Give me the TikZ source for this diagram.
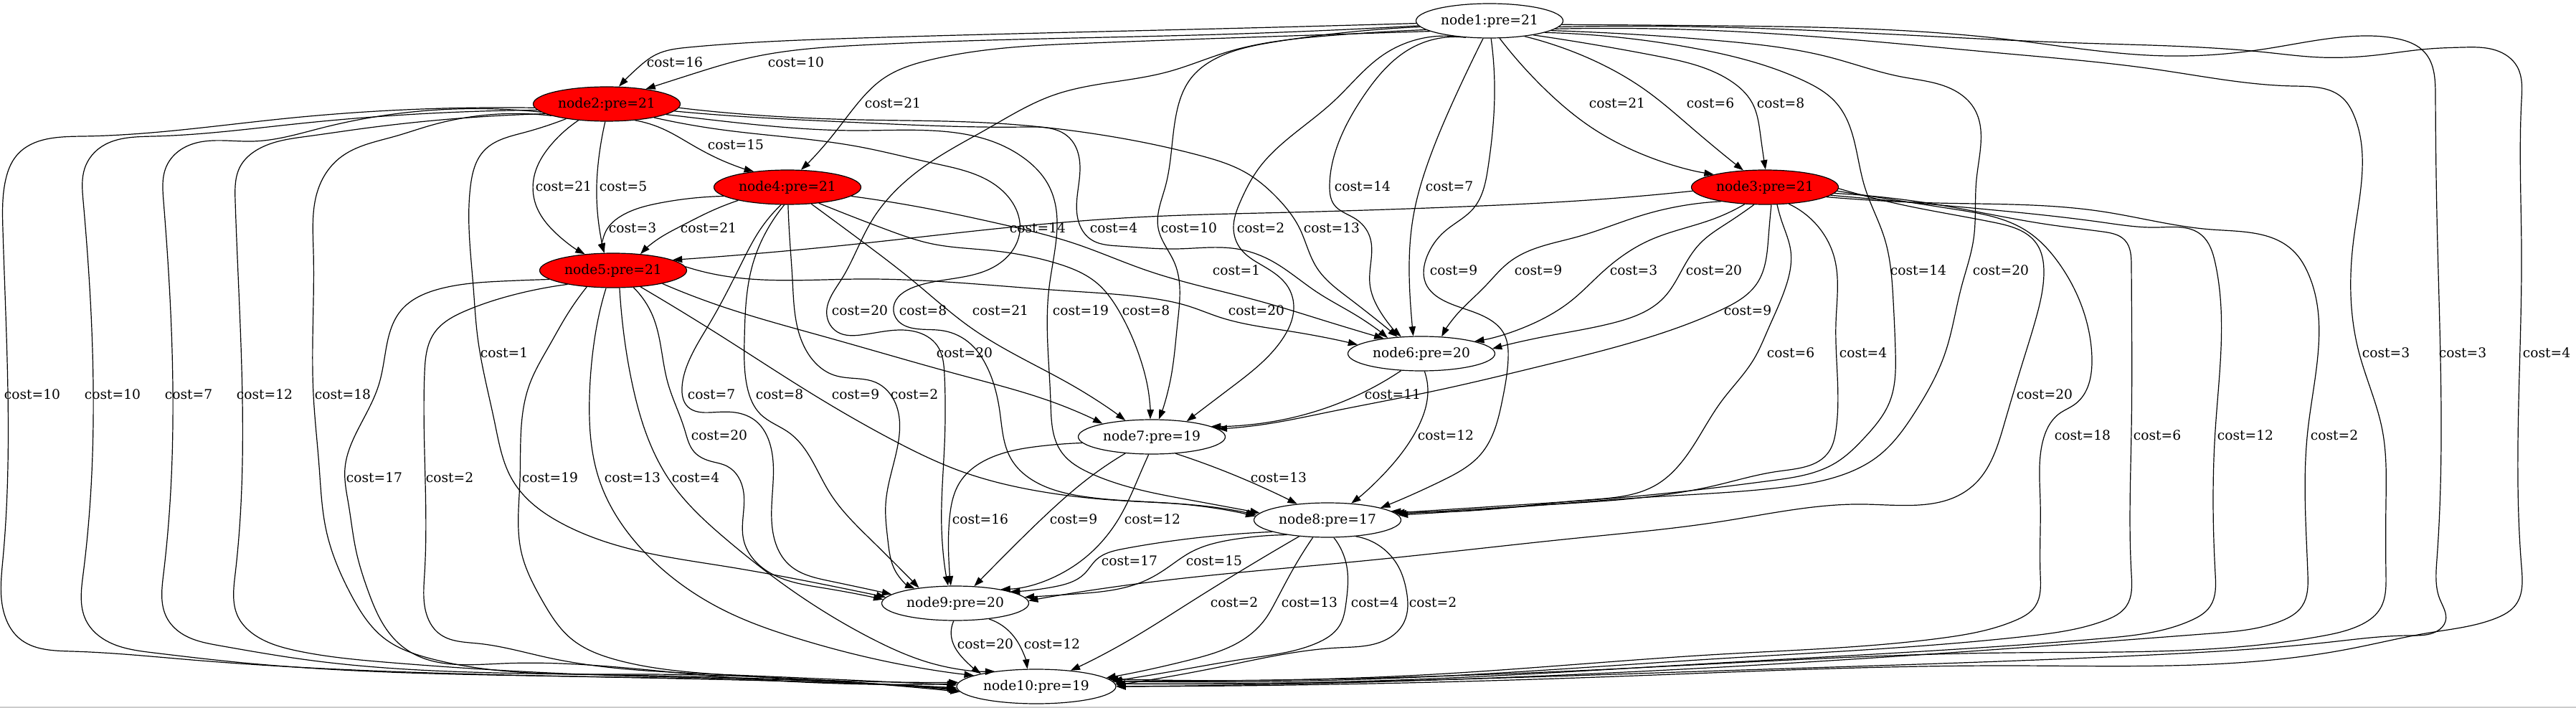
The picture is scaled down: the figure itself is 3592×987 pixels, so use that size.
\documentclass[tikz,border=0pt]{standalone}
\usepackage{fontspec}
\setmainfont{DejaVu Serif}
\usetikzlibrary{shapes.geometric,arrows.meta,hobby}

\begin{document}
\begin{tikzpicture}[
    x=0.75pt, y=-0.75pt,
    statenode/.style={
      ellipse, draw=black, line width=0.9pt, inner sep=0pt,
      minimum width=153.75pt, minimum height=36pt,
      font=\fontsize{14pt}{16pt}\selectfont
    },
    visited/.style={fill=red},
    costarr/.style={draw=black, line width=0.9pt, use Hobby shortcut, -{Triangle[length=10pt,width=7pt]}},
    costlbl/.style={inner sep=0pt, font=\fontsize{14pt}{16pt}\selectfont}
  ]
  \fill[white] (0,0) rectangle (3592,987);
  \useasboundingbox (0,0) rectangle (3592,987);
  \fill[gray!40] (0,985) rectangle (3592,987);

  % nodes
  \node[statenode] (n1) at (2077,29) {node1:pre=21};
  \node[statenode, visited] (n2) at (846,145) {node2:pre=21};
  \node[statenode, visited] (n3) at (2461,261) {node3:pre=21};
  \node[statenode, visited] (n4) at (1098,261) {node4:pre=21};
  \node[statenode, visited] (n5) at (855,377) {node5:pre=21};
  \node[statenode] (n6) at (1982,493) {node6:pre=20};
  \node[statenode] (n7) at (1606,609) {node7:pre=19};
  \node[statenode] (n8) at (1851,725) {node8:pre=17};
  \node[statenode] (n9) at (1332,841) {node9:pre=20};
  \node[statenode, minimum width=166.5pt] (n10) at (1445,957) {node10:pre=19};

  % edges out of node1
  \draw[costarr] (n1.182) .. (1700,40) .. (1200,53) .. (960,66) .. (915,76) .. (890,94) .. (n2.55);
  \draw[costarr] (n1.184) .. (1700,48) .. (1200,63) .. (1048,80) .. (960,105) .. (n2.21);
  \draw[costarr] (n1.190) .. (1800,50) .. (1521,60) .. (1299,83) .. (1231,110) .. (1196,144) .. (1160,190) .. (n4.52);
  \draw[costarr] (n1.-60) .. (2157,127) .. (2218,177) .. (2285,213) .. (n3.166);
  \draw[costarr] (n1.-24) .. (2208,78) .. (2295,126) .. (2361,180) .. (n3.142);
  \draw[costarr] (n1.-18) .. (2310,78) .. (2412,112) .. (2443,143) .. (2455,190) .. (n3.88);
  \draw[costarr] (n1.-145) .. (1968,67) .. (1902,133) .. (1866,200) .. (1854,260) .. (1860,285) .. (1890,305) .. (1910,330) .. (1910,395) .. (1925,435) .. (n6.140);
  \draw[costarr] (n1.-110) .. (2030,133) .. (1989,233) .. (1971,300) .. (1965,380) .. (1968,440) .. (n6.115);
  \draw[costarr] (n1.185) .. (1780,58) .. (1705,77) .. (1660,110) .. (1640,160) .. (1625,260) .. (1615,318) .. (1638,367) .. (1642,450) .. (1632,530) .. (n7.68);
  \draw[costarr] (n1.-152) .. (1928,77) .. (1861,140) .. (1800,190) .. (1755,235) .. (1730,280) .. (1720,318) .. (1730,347) .. (1760,370) .. (1796,400) .. (1804,430) .. (1788,473) .. (1717,540) .. (n7.24);
  \draw[costarr] (n1.-85) .. (2084,133) .. (2075,233) .. (2055,290) .. (2014,323) .. (1990,357) .. (1988,395) .. (2015,420) .. (2073,443) .. (2097,465) .. (2103,500) .. (2095,557) .. (2065,633) .. (2011,670) .. (n8.13);
  \draw[costarr] (n1.-12) .. (2361,67) .. (2514,112) .. (2560,143) .. (2600,260) .. (2628,333) .. (2640,420) .. (2643,490) .. (2635,560) .. (2600,610) .. (2560,645) .. (2470,670) .. (2300,690) .. (2100,705) .. (n8.6);
  \draw[costarr] (n1.-9) .. (2400,57) .. (2552,80) .. (2651,107) .. (2727,127) .. (2752,150) .. (2756,250) .. (2752,333) .. (2735,400) .. (2712,493) .. (2670,575) .. (2620,635) .. (2560,665) .. (2480,680) .. (2300,693) .. (2100,708) .. (n8.4);
  \draw[costarr] (n1.188) .. (1850,50) .. (1713,72) .. (1629,100) .. (1468,133) .. (1376,180) .. (1299,225) .. (1216,307) .. (1173,390) .. (1153,440) .. (1168,463) .. (1200,467) .. (1275,462) .. (1307,482) .. (1317,523) .. (1317,620) .. (1313,737) .. (n9.112);
  \draw[costarr] (n1.-3) .. (2400,36) .. (2800,55) .. (3023,78) .. (3160,68) .. (3297,50) .. (3343,54) .. (3381,73) .. (3396,133) .. (3398,300) .. (3398,780) .. (3402,835) .. (3410,866) .. (3398,880) .. (3360,886) .. (3250,895) .. (3000,913) .. (2400,935) .. (1800,952) .. (n10.2);
  \draw[costarr] (n1.-5) .. (2400,38) .. (2900,60) .. (3160,73) .. (3236,80) .. (3312,77) .. (3388,68) .. (3434,66) .. (3480,70) .. (3510,93) .. (3516,140) .. (3516,350) .. (3516,790) .. (3508,843) .. (3480,862) .. (3388,882) .. (3274,905) .. (2800,928) .. (2200,945) .. (n10.0);
  \draw[costarr] (n1.-7) .. (2400,43) .. (2800,75) .. (3008,97) .. (3198,120) .. (3267,137) .. (3282,160) .. (3282,333) .. (3289,490) .. (3322,600) .. (3327,700) .. (3327,800) .. (3318,850) .. (3290,872) .. (3236,887) .. (2800,910) .. (2200,935) .. (n10.4);

  % edges out of node2
  \draw[costarr] (n2.-30) .. (925,180) .. (965,202) .. (1010,225) .. (n4.155);
  \draw[costarr] (n2.-150) .. (770,200) .. (745,245) .. (747,285) .. (775,325) .. (n5.150);
  \draw[costarr] (n2.-95) .. (835,220) .. (832,260) .. (836,320) .. (n5.117);
  \draw[costarr] (n2.-6) .. (1000,160) .. (1200,171) .. (1430,177) .. (1491,192) .. (1506,233) .. (1502,300) .. (1520,333) .. (1560,343) .. (1640,347) .. (1725,347) .. (1770,362) .. (1836,407) .. (1895,442) .. (n6.155);
  \draw[costarr] (n2.-3) .. (1000,156) .. (1200,167) .. (1391,172) .. (1529,187) .. (1674,217) .. (1736,240) .. (1782,277) .. (1812,318) .. (1836,373) .. (1880,415) .. (n6.145);
  \draw[costarr] (n2.-10) .. (1000,168) .. (1200,182) .. (1430,222) .. (1463,260) .. (1463,400) .. (1465,560) .. (1480,630) .. (1521,660) .. (1659,697) .. (n8.174);
  \draw[costarr] (n2.-16) .. (1000,180) .. (1200,205) .. (1299,227) .. (1399,267) .. (1422,323) .. (1394,367) .. (1275,400) .. (1246,428) .. (1252,447) .. (1275,458) .. (1315,461) .. (1354,480) .. (1374,507) .. (1394,573) .. (1410,640) .. (1450,675) .. (1510,692) .. (1650,703) .. (n8.177);
  \draw[costarr] (n2.-160) .. (730,185) .. (675,210) .. (656,260) .. (660,400) .. (666,470) .. (690,590) .. (715,670) .. (784,730) .. (870,763) .. (1014,790) .. (1150,815) .. (n9.175);
  \draw[costarr] (n2.-177) .. (400,165) .. (115,190) .. (23,217) .. (8,250) .. (4,320) .. (4,780) .. (8,862) .. (27,890) .. (100,908) .. (268,920) .. (800,943) .. (1200,953) .. (n10.181);
  \draw[costarr] (n2.-175) .. (420,172) .. (214,190) .. (138,207) .. (118,235) .. (116,280) .. (116,800) .. (120,865) .. (140,888) .. (214,910) .. (329,923) .. (800,943) .. (1200,953) .. (n10.181);
  \draw[costarr] (n2.-173) .. (450,178) .. (352,197) .. (253,208) .. (232,232) .. (228,280) .. (228,800) .. (232,860) .. (253,883) .. (306,900) .. (429,920) .. (800,940) .. (1200,952) .. (n10.182);
  \draw[costarr] (n2.-171) .. (500,180) .. (429,190) .. (360,208) .. (335,232) .. (328,280) .. (328,800) .. (332,860) .. (352,883) .. (413,907) .. (536,923) .. (900,943) .. (1200,952) .. (n10.183);
  \draw[costarr] (n2.-168) .. (600,175) .. (551,190) .. (474,220) .. (445,260) .. (437,350) .. (437,550) .. (445,650) .. (455,740) .. (490,830) .. (536,890) .. (600,918) .. (900,940) .. (1200,952) .. (n10.184);

  % edges out of node3
  \draw[costarr] (n3.183) .. (2200,280) .. (2042,288) .. (1800,296) .. (1583,303) .. (1407,317) .. (1196,340) .. (n5.10);
  \draw[costarr] (n3.-162) .. (2290,300) .. (2200,330) .. (2105,365) .. (2070,400) .. (2030,440) .. (n6.40);
  \draw[costarr] (n3.-140) .. (2390,305) .. (2300,335) .. (2237,377) .. (2190,420) .. (2140,450) .. (n6.13);
  \draw[costarr] (n3.-122) .. (2410,310) .. (2370,340) .. (2345,377) .. (2320,415) .. (2250,450) .. (2150,470) .. (n6.4);
  \draw[costarr] (n3.-70) .. (2466,330) .. (2450,395) .. (2400,432) .. (2300,470) .. (2150,510) .. (2000,545) .. (1850,575) .. (1760,592) .. (n7.7);
  \draw[costarr] (n3.-55) .. (2485,310) .. (2497,350) .. (2490,400) .. (2465,460) .. (2446,500) .. (2400,560) .. (2340,650) .. (2311,675) .. (2212,697) .. (2050,712) .. (n8.8);
  \draw[costarr] (n3.-35) .. (2530,310) .. (2558,360) .. (2560,450) .. (2560,600) .. (2550,630) .. (2480,657) .. (2391,677) .. (2168,703) .. (n8.5);
  \draw[costarr] (n3.-1) .. (2650,285) .. (2780,310) .. (2840,340) .. (2850,380) .. (2840,440) .. (2822,500) .. (2795,590) .. (2750,678) .. (2600,703) .. (2400,727) .. (2200,750) .. (1900,782) .. (1600,812) .. (n9.2);
  \draw[costarr] (n3.-3) .. (2727,292) .. (2826,322) .. (2871,367) .. (2910,450) .. (2917,500) .. (2894,563) .. (2871,577) .. (2848,617) .. (2845,700) .. (2845,800) .. (2838,845) .. (2810,865) .. (2704,890) .. (2400,912) .. (2000,940) .. (n10.6);
  \draw[costarr] (n3.-5) .. (2700,285) .. (2856,313) .. (2932,323) .. (2963,335) .. (2972,370) .. (2972,600) .. (2972,800) .. (2965,845) .. (2935,865) .. (2826,887) .. (2400,918) .. (2000,943) .. (n10.4);
  \draw[costarr] (n3.-7) .. (2750,290) .. (2932,310) .. (3008,317) .. (3069,327) .. (3089,367) .. (3089,600) .. (3089,800) .. (3082,845) .. (3055,865) .. (2932,890) .. (2400,924) .. (2000,946) .. (n10.2);
  \draw[costarr] (n3.-9) .. (2700,283) .. (2932,295) .. (3084,320) .. (3198,350) .. (3218,380) .. (3218,600) .. (3218,800) .. (3210,845) .. (3180,866) .. (3084,883) .. (2400,930) .. (2000,948) .. (n10.0);

  % edges out of node4
  \draw[costarr] (n4.-172) .. (920,283) .. (868,300) .. (845,322) .. (n5.117);
  \draw[costarr] (n4.-165) .. (990,295) .. (950,315) .. (915,335) .. (n5.31);
  \draw[costarr] (n4.-8) .. (1300,292) .. (1394,312) .. (1500,340) .. (1599,377) .. (1757,420) .. (1850,448) .. (n6.158);
  \draw[costarr] (n4.-35) .. (1200,335) .. (1275,393) .. (1354,457) .. (1500,540) .. (n7.148);
  \draw[costarr] (n4.-27) .. (1236,320) .. (1300,340) .. (1380,349) .. (1473,367) .. (1530,395) .. (1560,433) .. (1590,500) .. (1602,550) .. (n7.95);
  \draw[costarr] (n4.-110) .. (1060,320) .. (1034,367) .. (990,450) .. (959,507) .. (951,540) .. (959,567) .. (991,575) .. (1025,575) .. (1054,587) .. (1074,620) .. (1077,737) .. (1100,787) .. (1157,810) .. (n9.172);
  \draw[costarr] (n4.-100) .. (1070,320) .. (1050,367) .. (1038,473) .. (1042,540) .. (1060,577) .. (1100,603) .. (1157,687) .. (1215,753) .. (n9.157);
  \draw[costarr] (n4.-88) .. (1101,330) .. (1105,390) .. (1125,490) .. (1163,523) .. (1198,528) .. (1221,533) .. (1249,563) .. (1252,620) .. (1235,703) .. (1238,753) .. (1249,797) .. (n9.160);

  % edges out of node5
  \draw[costarr] (n5.3) .. (1000,383) .. (1200,389) .. (1480,405) .. (1600,415) .. (1658,427) .. (1700,442) .. (1800,462) .. (n6.172);
  \draw[costarr] (n5.-15) .. (1000,425) .. (1152,470) .. (1340,523) .. (1480,565) .. (n7.165);
  \draw[costarr] (n5.-31) .. (1008,470) .. (1129,547) .. (1244,613) .. (1340,657) .. (1450,685) .. (1550,697) .. (1700,708) .. (n8.176);
  \draw[costarr] (n5.-40) .. (910,440) .. (931,533) .. (955,600) .. (968,630) .. (991,643) .. (1014,650) .. (1037,687) .. (1037,753) .. (1071,797) .. (1150,820) .. (n9.177);
  \draw[costarr] (n5.-172) .. (700,392) .. (612,403) .. (559,433) .. (536,500) .. (528,537) .. (497,603) .. (481,653) .. (486,703) .. (497,770) .. (513,823) .. (549,890) .. (574,910) .. (700,925) .. (1000,943) .. (n10.178);
  \draw[costarr] (n5.-163) .. (720,410) .. (650,433) .. (605,465) .. (592,520) .. (592,800) .. (596,860) .. (612,883) .. (666,897) .. (765,917) .. (1000,940) .. (n10.179);
  \draw[costarr] (n5.-148) .. (790,440) .. (767,480) .. (738,537) .. (725,670) .. (727,770) .. (756,837) .. (796,890) .. (860,920) .. (1000,940) .. (n10.177);
  \draw[costarr] (n5.-112) .. (835,440) .. (828,480) .. (822,553) .. (836,670) .. (899,770) .. (1014,853) .. (1112,890) .. (1250,925) .. (n10.170);
  \draw[costarr] (n5.-70) .. (868,450) .. (882,537) .. (934,670) .. (1014,753) .. (1100,820) .. (1215,890) .. (1300,925) .. (n10.160);

  % edges out of node6 and node7
  \draw[costarr] (n6.-140) .. (1895,550) .. (1836,573) .. (1760,590) .. (n7.10);
  \draw[costarr] (n6.-80) .. (1991,545) .. (1975,600) .. (1935,655) .. (n8.35);
  \draw[costarr] (n7.-35) .. (1730,666) .. (n8.152);
  \draw[costarr] (n7.-175) .. (1450,622) .. (1384,637) .. (1338,673) .. (1324,723) .. (1323,780) .. (n9.104);
  \draw[costarr] (n7.-148) .. (1520,665) .. (1453,723) .. (1400,775) .. (n9.42);
  \draw[costarr] (n7.-100) .. (1590,660) .. (1560,723) .. (1506,783) .. (n9.17);

  % edges out of node8 and node9
  \draw[costarr] (n8.-168) .. (1650,752) .. (1567,765) .. (1529,780) .. (1512,800) .. (1470,818) .. (n9.12);
  \draw[costarr] (n8.-160) .. (1720,752) .. (1660,770) .. (1630,790) .. (1600,808) .. (1500,828) .. (n9.5);
  \draw[costarr] (n8.-150) .. (1740,790) .. (1659,840) .. (1570,895) .. (n10.25);
  \draw[costarr] (n8.-130) .. (1805,790) .. (1778,840) .. (1765,862) .. (1736,890) .. (1659,920) .. (n10.7);
  \draw[costarr] (n8.-70) .. (1878,790) .. (1877,840) .. (1868,872) .. (1835,897) .. (1740,918) .. (1640,935) .. (n10.4);
  \draw[costarr] (n8.-30) .. (1950,790) .. (1961,823) .. (1958,867) .. (1936,890) .. (1866,903) .. (1700,930) .. (n10.1);
  \draw[costarr] (n9.-95) .. (1327,890) .. (1345,920) .. (n10.167);
  \draw[costarr] (n9.-25) .. (1405,878) .. (1422,900) .. (n10.117);

  % cost labels
  \node[costlbl] (c1) at (941,87) {cost=16};
  \node[costlbl] (c2) at (1110,87) {cost=10};
  \node[costlbl] (c3) at (1245,144) {cost=21};
  \node[costlbl] (c4) at (2255,144) {cost=21};
  \node[costlbl] (c5) at (2385,144) {cost=6};
  \node[costlbl] (c6) at (2483,144) {cost=8};
  \node[costlbl] (c7) at (1026,202) {cost=15};
  \node[costlbl] (c8) at (786,260) {cost=21};
  \node[costlbl] (c9) at (869,260) {cost=5};
  \node[costlbl] (c10) at (1900,260) {cost=14};
  \node[costlbl] (c11) at (2021,260) {cost=7};
  \node[costlbl] (c12) at (882,318) {cost=3};
  \node[costlbl] (c13) at (988,318) {cost=21};
  \node[costlbl] (c14) at (1447,318) {cost=14};
  \node[costlbl] (c15) at (1553,318) {cost=4};
  \node[costlbl] (c16) at (1658,318) {cost=10};
  \node[costlbl] (c17) at (1758,318) {cost=2};
  \node[costlbl] (c18) at (1857,318) {cost=13};
  \node[costlbl] (c19) at (1724,377) {cost=1};
  \node[costlbl] (c20) at (2027,377) {cost=9};
  \node[costlbl] (c21) at (2145,377) {cost=9};
  \node[costlbl] (c22) at (2278,377) {cost=3};
  \node[costlbl] (c23) at (2390,377) {cost=20};
  \node[costlbl] (c24) at (2675,377) {cost=14};
  \node[costlbl] (c25) at (2790,377) {cost=20};
  \node[costlbl] (c26) at (1199,433) {cost=20};
  \node[costlbl] (c27) at (1287,433) {cost=8};
  \node[costlbl] (c28) at (1395,433) {cost=21};
  \node[costlbl] (c29) at (1507,433) {cost=19};
  \node[costlbl] (c30) at (1598,433) {cost=8};
  \node[costlbl] (c31) at (1752,433) {cost=20};
  \node[costlbl] (c32) at (2437,433) {cost=9};
  \node[costlbl] (c33) at (703,492) {cost=1};
  \node[costlbl] (c34) at (1345,492) {cost=20};
  \node[costlbl] (c35) at (2497,492) {cost=6};
  \node[costlbl] (c36) at (2598,492) {cost=4};
  \node[costlbl] (c37) at (3327,492) {cost=3};
  \node[costlbl] (c38) at (3434,492) {cost=3};
  \node[costlbl] (c39) at (3551,492) {cost=4};
  \node[costlbl] (c40) at (45,550) {cost=10};
  \node[costlbl] (c41) at (157,550) {cost=10};
  \node[costlbl] (c42) at (263,550) {cost=7};
  \node[costlbl] (c43) at (369,550) {cost=12};
  \node[costlbl] (c44) at (478,550) {cost=18};
  \node[costlbl] (c45) at (992,550) {cost=7};
  \node[costlbl] (c46) at (1087,550) {cost=8};
  \node[costlbl] (c47) at (1193,550) {cost=9};
  \node[costlbl] (c48) at (1275,550) {cost=2};
  \node[costlbl] (c49) at (1942,550) {cost=11};
  \node[costlbl] (c50) at (2851,550) {cost=20};
  \node[costlbl] (c51) at (1003,607) {cost=20};
  \node[costlbl] (c52) at (2016,607) {cost=12};
  \node[costlbl] (c53) at (2904,607) {cost=18};
  \node[costlbl] (c54) at (3008,607) {cost=6};
  \node[costlbl] (c55) at (3131,607) {cost=12};
  \node[costlbl] (c56) at (3255,607) {cost=2};
  \node[costlbl] (c57) at (522,666) {cost=17};
  \node[costlbl] (c58) at (627,666) {cost=2};
  \node[costlbl] (c59) at (767,666) {cost=19};
  \node[costlbl] (c60) at (882,666) {cost=13};
  \node[costlbl] (c61) at (970,666) {cost=4};
  \node[costlbl] (c62) at (1783,666) {cost=13};
  \node[costlbl] (c63) at (1367,724) {cost=16};
  \node[costlbl] (c64) at (1497,724) {cost=9};
  \node[costlbl] (c65) at (1607,724) {cost=12};
  \node[costlbl] (c66) at (1575,782) {cost=17};
  \node[costlbl] (c67) at (1693,782) {cost=15};
  \node[costlbl] (c68) at (1721,840) {cost=2};
  \node[costlbl] (c69) at (1826,840) {cost=13};
  \node[costlbl] (c70) at (1917,840) {cost=4};
  \node[costlbl] (c71) at (1998,840) {cost=2};
  \node[costlbl] (c72) at (1374,898) {cost=20};
  \node[costlbl] (c73) at (1467,898) {cost=12};
\end{tikzpicture}
\end{document}
